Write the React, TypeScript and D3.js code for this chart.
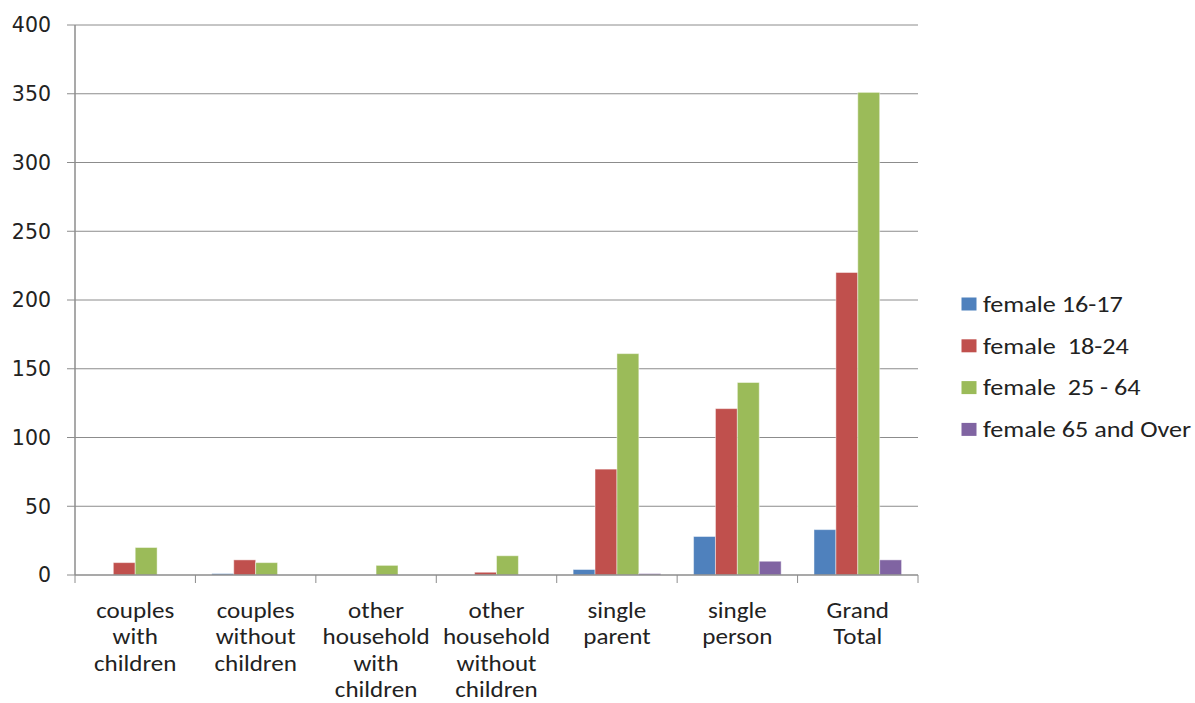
import React from "react";
import * as d3 from "d3";

// Household types (each entry is the wrapped label lines)
const categories: string[][] = [
  ["couples", "with", "children"],
  ["couples", "without", "children"],
  ["other", "household", "with", "children"],
  ["other", "household", "without", "children"],
  ["single", "parent"],
  ["single", "person"],
  ["Grand", "Total"],
];

const seriesNames = ["female 16-17", "female  18-24", "female  25 - 64", "female 65 and Over"];
const seriesColors = ["#4F81BD", "#C0504D", "#9BBB59", "#8064A2"];

const female16to17 = [0, 1, 0, 0, 4, 28, 33];
const female18to24 = [9, 11, 0, 2, 77, 121, 220];
const female25to64 = [20, 9, 7, 14, 161, 140, 351];
const female65over = [0, 0, 0, 0, 1, 10, 11];

const yTicks = [0, 50, 100, 150, 200, 250, 300, 350, 400];

const W = 1195;
const H = 703;
const left = 75;
const right = 918;
const top = 25;
const bottom = 575;

export default function App() {
  const series = [female16to17, female18to24, female25to64, female65over];
  const idx = categories.map((_, i) => i);

  const x = d3.scaleBand<number>().domain(idx).range([left, right]).paddingInner(0).paddingOuter(0);
  const bw = x.bandwidth();
  const barW = bw / 5.5;
  const groupPad = (bw - barW * 4) / 2;
  const y = d3.scaleLinear().domain([0, 400]).range([bottom, top]);

  const font = "Carlito, 'Open Sans', 'Liberation Sans', sans-serif";

  return (
    <svg width={W} height={H} style={{ position: "absolute", left: 0, top: 0, background: "#fff" }}>
      {/* horizontal gridlines and y ticks */}
      {yTicks.map((t) => (
        <g key={t}>
          {t > 0 && (
            <line x1={left} x2={right} y1={y(t)} y2={y(t)} stroke="#8c8c8c" strokeWidth={1} />
          )}
          <line x1={left - 8} x2={left} y1={y(t)} y2={y(t)} stroke="#8c8c8c" strokeWidth={1} />
          <text
            x={51}
            y={y(t)}
            dy="0.36em"
            textAnchor="end"
            fontFamily="'DejaVu Sans', Verdana, sans-serif"
            fontSize={20.5}
            fill="#222"
          >
            {t}
          </text>
        </g>
      ))}

      {/* bars */}
      {series.map((vals, s) =>
        vals.map((v, i) =>
          v > 0 ? (
            <rect
              key={`${s}-${i}`}
              x={(x(i) as number) + groupPad + s * barW}
              y={y(v)}
              width={barW}
              height={bottom - y(v)}
              fill={seriesColors[s]}
              stroke="#ffffff"
              strokeOpacity={0.45}
              strokeWidth={1}
            />
          ) : null
        )
      )}

      {/* axes */}
      <line x1={left} x2={left} y1={top} y2={bottom} stroke="#8c8c8c" strokeWidth={1.5} />
      <line x1={left} x2={right} y1={bottom} y2={bottom} stroke="#8c8c8c" strokeWidth={1.5} />
      {d3.range(categories.length + 1).map((i) => {
        const xx = left + i * bw;
        return <line key={i} x1={xx} x2={xx} y1={bottom} y2={bottom + 8} stroke="#8c8c8c" strokeWidth={1} />;
      })}

      {/* category labels */}
      {categories.map((lines, i) => (
        <g key={i} transform={`translate(${(x(i) as number) + bw / 2},0) scale(1.09,1)`}>
          {lines.map((ln, j) => (
            <text
              key={j}
              x={0}
              y={618 + j * 26.3}
              textAnchor="middle"
              fontFamily={font}
              fontSize={23}
              fill="#222"
            >
              {ln}
            </text>
          ))}
        </g>
      ))}

      {/* legend */}
      {seriesNames.map((name, s) => {
        const cy = 304 + s * 41.8;
        return (
          <g key={name}>
            <rect x={961.5} y={cy - 6.5} width={15} height={13} fill={seriesColors[s]} />
            <text
              transform={`translate(983,${cy}) scale(1.19,1)`}
              dy="0.35em"
              fontFamily={font}
              fontSize={22}
              fill="#222"
              style={{ whiteSpace: "pre" }}
            >
              {name}
            </text>
          </g>
        );
      })}
    </svg>
  );
}
